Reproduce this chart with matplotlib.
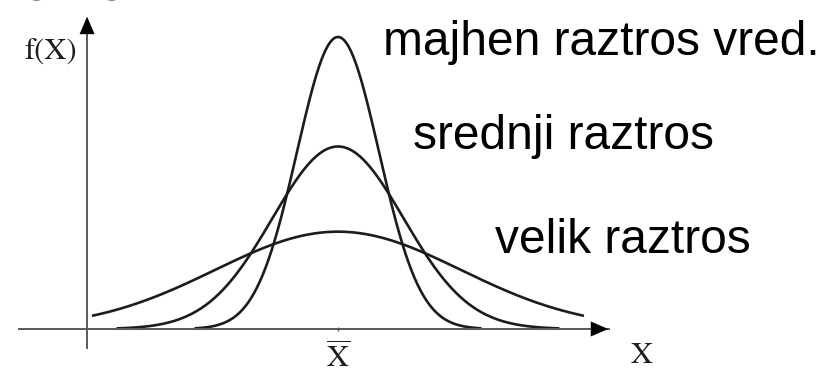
import numpy as np
import matplotlib
matplotlib.use("Agg")
import matplotlib.pyplot as plt

plt.rcParams['mathtext.fontset'] = 'stix'

# three normal curves with the same mean and growing spread
labels = ["majhen raztros vred.", "srednji raztros", "velik raztros"]
mean = 0.0
sigmas = [0.5, 0.8, 1.5]
# how far each curve is drawn either side of the mean
half_ranges = [1.75, 2.7, 3.0]

W, H = 830, 374
fig = plt.figure(figsize=(W / 100, H / 100), dpi=100)
ax = fig.add_axes([0, 0, 1, 1])
ax.set_xlim(-338 / 82, (W - 338) / 82)
ax.set_ylim(-(H - 329) / 366, 329 / 366)
ax.axis("off")


def px(x, y):
    # pixel position (from top-left) to figure fraction
    return x / W, 1 - y / H


for s, r in zip(sigmas, half_ranges):
    xs = np.linspace(mean - r, mean + r, 400)
    ys = np.exp(-(xs - mean) ** 2 / (2 * s ** 2)) / (s * np.sqrt(2 * np.pi))
    ax.plot(xs, ys, color="#1c1c1c", lw=1.9, solid_capstyle="butt")

# axes with arrow heads
axis_col = "#5a5a5a"
x0, x1 = -3.89, 3.30
y0, y1 = -0.052, 0.84
yx = -3.06
ax.plot([x0, x1], [0, 0], color=axis_col, lw=1.4)
ax.plot([yx, yx], [y0, y1], color=axis_col, lw=1.4)
ax.annotate("", xy=(3.33, 0), xytext=(3.13, 0),
            arrowprops=dict(arrowstyle="-|>,head_length=0.7,head_width=0.3",
                            color="black", lw=0, mutation_scale=18))
ax.annotate("", xy=(yx, 0.861), xytext=(yx, 0.80),
            arrowprops=dict(arrowstyle="-|>,head_length=0.7,head_width=0.3",
                            color="black", lw=0, mutation_scale=18))
ax.plot([mean], [0], marker="|", ms=3, color=axis_col, mew=1)

# axis labels
fig.text(*px(51, 52), "f(X)", fontsize=22, family="STIXGeneral",
         ha="center", va="center", color="#1e1e1e")
fig.text(*px(338, 341), r"$\overline{\mathrm{X}}$", fontsize=22,
         ha="center", va="top", color="#1e1e1e")
fig.text(*px(642, 356), "X", fontsize=22, family="STIXGeneral",
         ha="center", va="center", color="#1e1e1e")

# curve labels
label_pos = [(383, 55), (413, 149), (495, 253)]
for text, (lx, ly) in zip(labels, label_pos):
    fig.text(*px(lx, ly), text, fontsize=34.5, family="Liberation Sans",
             ha="left", va="baseline", color="black")

# heading above, mostly outside the canvas
fig.text(*px(-5, 0), "Teme", fontsize=39, family="Liberation Sans",
         ha="left", va="baseline", color="black")

fig.savefig("out.png", dpi=100, facecolor="white")
